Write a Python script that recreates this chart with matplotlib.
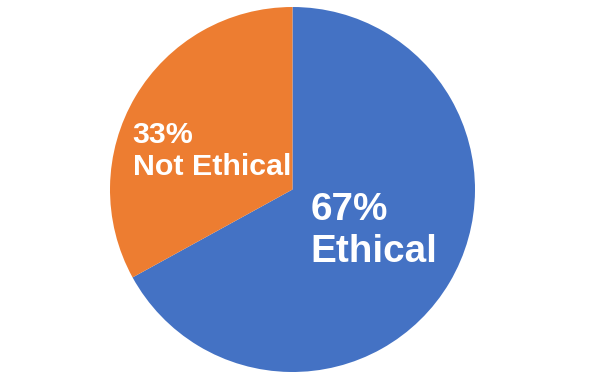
import matplotlib
matplotlib.use("Agg")
import matplotlib.pyplot as plt

labels = ["Ethical", "Not Ethical"]
values = [67, 33]
colors = ["#4472C4", "#ED7D31"]

plt.rcParams['font.family'] = ['Liberation Sans', 'DejaVu Sans']

fig = plt.figure(figsize=(5.9, 3.77), dpi=100)
# pie centre ~ (292, 190) px, radius ~182 px
cx, cy, r = 292.5, 189.5, 182.5
ax = fig.add_axes([(cx - r) / 590, (377 - cy - r) / 377, 2 * r / 590, 2 * r / 377])

ax.pie(values, colors=colors, startangle=90, counterclock=False, radius=1,
       wedgeprops=dict(linewidth=0))
ax.set_xlim(-1, 1)
ax.set_ylim(-1, 1)
ax.set_aspect('auto')
ax.axis('off')

ax.text(0.098, -0.400, "%d%%\n%s" % (values[0], labels[0]), color="white",
        fontsize=27.8, fontweight="bold", ha="left", va="baseline", linespacing=1.25)
ax.text(-0.876, 0.078, "%d%%\n%s" % (values[1], labels[1]), color="white",
        fontsize=21.9, fontweight="bold", ha="left", va="baseline", linespacing=1.2)

fig.savefig("out.png", dpi=100)
